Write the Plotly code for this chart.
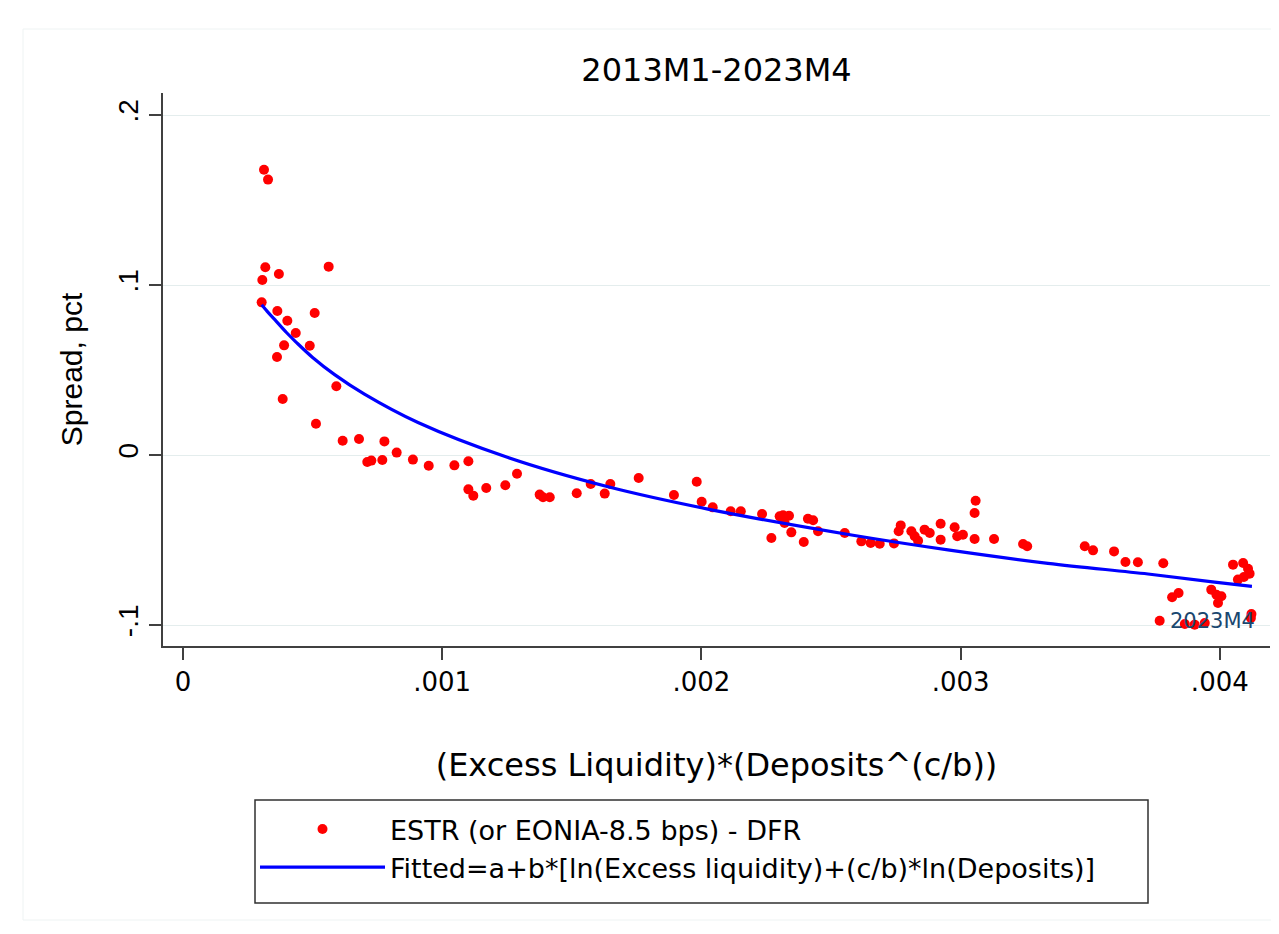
import plotly.graph_objects as go

# ---- data ----
spread_x = [
    0.0003125, 0.000328, 0.0003176, 0.000370, 0.000306, 0.000562, 0.0003035, 0.000364,
    0.0004025, 0.000508, 0.000435, 0.000390, 0.000489, 0.0003627, 0.0005916, 0.0003846,
    0.000513, 0.000616, 0.000679, 0.000777, 0.0008244, 0.000711, 0.0007266, 0.000769,
    0.000887,
    0.000948, 0.001047, 0.001101, 0.001101, 0.001120, 0.001170, 0.0012435, 0.0012886,
    0.001376, 0.001389, 0.001415, 0.001519, 0.001573, 0.001627, 0.0016486, 0.001758,
    0.001894, 0.001982, 0.002001, 0.0020436, 0.002113, 0.002152,
    0.002234, 0.002270, 0.002302, 0.002315, 0.002338, 0.002321, 0.002347, 0.002395,
    0.002411, 0.002431, 0.002450, 0.002553, 0.002617, 0.002653, 0.002688, 0.002743,
    0.002769, 0.002761, 0.002810, 0.002823, 0.002836, 0.002861, 0.002881, 0.002923,
    0.002923, 0.002977, 0.002987, 0.003009, 0.003054, 0.003058, 0.003054, 0.003129,
    0.003241, 0.003257,
    0.003479, 0.003511, 0.003592, 0.003636, 0.003684, 0.003782, 0.003816, 0.003841,
    0.003768, 0.003865, 0.003903, 0.003942, 0.003967, 0.003987, 0.004006, 0.003993,
    0.004051, 0.004090, 0.004109, 0.004115, 0.004093, 0.004070, 0.004122, 0.004120,
]
spread_y = [
    0.1678, 0.1620, 0.1104, 0.1065, 0.1029, 0.1108, 0.0898, 0.0847,
    0.0790, 0.0835, 0.0718, 0.0645, 0.0643, 0.0576, 0.0404, 0.0329,
    0.0184, 0.0084, 0.0094, 0.0080, 0.0014, -0.0041, -0.0033, -0.0029,
    -0.0027,
    -0.0063, -0.0061, -0.0037, -0.0202, -0.0239, -0.0194, -0.0178, -0.0110,
    -0.0233, -0.0249, -0.0249, -0.0225, -0.0171, -0.0227, -0.0171, -0.0135,
    -0.0235, -0.0157, -0.0275, -0.0308, -0.0331, -0.0331,
    -0.0347, -0.0488, -0.0361, -0.0355, -0.0357, -0.0400, -0.0455, -0.0512,
    -0.0375, -0.0384, -0.0449, -0.0459, -0.0508, -0.0518, -0.0522, -0.0520,
    -0.0414, -0.0449, -0.0449, -0.0478, -0.0504, -0.0439, -0.0459, -0.0404,
    -0.0498, -0.0425, -0.0478, -0.0469, -0.0341, -0.0269, -0.0494, -0.0494,
    -0.0524, -0.0537,
    -0.0537, -0.0561, -0.0567, -0.0629, -0.0631, -0.0637, -0.0837, -0.0812,
    -0.0975, -0.0994, -0.0998, -0.0988, -0.0792, -0.0822, -0.0831, -0.0871,
    -0.0645, -0.0635, -0.0669, -0.0698, -0.0718, -0.0733, -0.0935, -0.0959,
]
label_text = "2023M4"
label_index = 89  # the point carrying the 2023M4 marker label

fit_x = [0.0003035, 0.00033, 0.00036, 0.00040, 0.000435, 0.00050, 0.000585, 0.00070,
         0.0009066, 0.001254, 0.001640, 0.002025, 0.002585, 0.002951, 0.003337,
         0.003723, 0.003980, 0.004124]
fit_y = [0.0884, 0.0836, 0.0786, 0.0719, 0.0666, 0.0574, 0.0473, 0.0358,
         0.0191, -0.0015, -0.0187, -0.0318, -0.0472, -0.0558, -0.0637,
         -0.0700, -0.0748, -0.0773]

x_ticks = [0, 0.001, 0.002, 0.003, 0.004]
x_tick_labels = ["0", ".001", ".002", ".003", ".004"]
y_ticks = [-0.1, 0, 0.1, 0.2]
y_tick_labels = ["-.1", "0", ".1", ".2"]

title_text = "2013M1-2023M4"
x_title = "(Excess Liquidity)*(Deposits^(c/b))"
y_title = "Spread, pct"
name_points = "ESTR (or EONIA-8.5 bps) - DFR"
name_fit = "Fitted=a+b*[ln(Excess liquidity)+(c/b)*ln(Deposits)]"

# ---- figure ----
W, H = 1279, 934
L, R, T, B = 155, 17, 85, 296
pw, ph = W - L - R, H - T - B

def px_x(p):
    return (p - L) / pw

def px_y(p):
    return (H - B - p) / ph

HFONT = "DejaVu Sans"
VFONT = "Liberation Sans"

fig = go.Figure()
fig.add_trace(go.Scatter(
    x=spread_x, y=spread_y, mode="markers", name=name_points,
    marker=dict(color="#ff0000", size=10, line=dict(width=0)),
))
fig.add_trace(go.Scatter(
    x=fit_x, y=fit_y, mode="lines", name=name_fit,
    line=dict(color="#0000ff", width=3.2, shape="spline", smoothing=1.0),
))

fig.add_annotation(
    x=spread_x[label_index], y=spread_y[label_index], text=label_text,
    showarrow=False, xanchor="left", yanchor="middle", xshift=8,
    font=dict(family=HFONT, size=21, color="#1a476f"),
)

fig.update_layout(
    width=W, height=H,
    margin=dict(l=L, r=R, t=T, b=B),
    paper_bgcolor="white", plot_bgcolor="white",
    title=dict(text=title_text, x=0.5, xref="paper", xanchor="center",
               y=1 - 62 / H, yref="container", yanchor="middle",
               font=dict(family=HFONT, size=32, color="black")),
    showlegend=True,
    legend=dict(x=px_x(247), y=px_y(797), xanchor="left", yanchor="top",
                xref="paper", yref="paper",
                font=dict(family=HFONT, size=27, color="black"),
                bgcolor="rgba(0,0,0,0)", borderwidth=0, itemwidth=125,
                traceorder="normal"),
    xaxis=dict(
        range=[(155 - 175) / 259.2e3, (1262 - 175) / 259.2e3],
        tickvals=x_ticks, ticktext=x_tick_labels,
        showgrid=False, zeroline=False,
        showline=True, linecolor="#404040", linewidth=1.5,
        ticks="outside", ticklen=12, tickwidth=1.5, tickcolor="#404040",
        tickfont=dict(family=HFONT, size=26, color="black"),
        title=dict(text=x_title, standoff=58,
                   font=dict(family=HFONT, size=32, color="black")),
    ),
    yaxis=dict(
        range=[(447 - 638) / 1700, (447 - 85) / 1700],
        tickvals=y_ticks, ticktext=y_tick_labels, tickangle=-90,
        showgrid=True, gridcolor="#e4eded", gridwidth=1.2, zeroline=False,
        showline=True, linecolor="#404040", linewidth=1.5,
        ticks="outside", ticklen=12, tickwidth=1.5, tickcolor="#404040",
        tickfont=dict(family=VFONT, size=28, color="black"),
        title=dict(text=y_title, standoff=22,
                   font=dict(family=VFONT, size=30, color="black")),
    ),
    shapes=[
        dict(type="rect", xref="paper", yref="paper",
             x0=px_x(247), x1=px_x(1140), y0=px_y(895), y1=px_y(792),
             line=dict(color="#303030", width=1.5), fillcolor="rgba(0,0,0,0)"),
        dict(type="rect", xref="paper", yref="paper",
             x0=px_x(15), x1=px_x(1274), y0=px_y(912), y1=px_y(21),
             line=dict(color="#eef3f3", width=1), fillcolor="rgba(0,0,0,0)",
             layer="below"),
    ],
)

fig.write_html("out.html")
